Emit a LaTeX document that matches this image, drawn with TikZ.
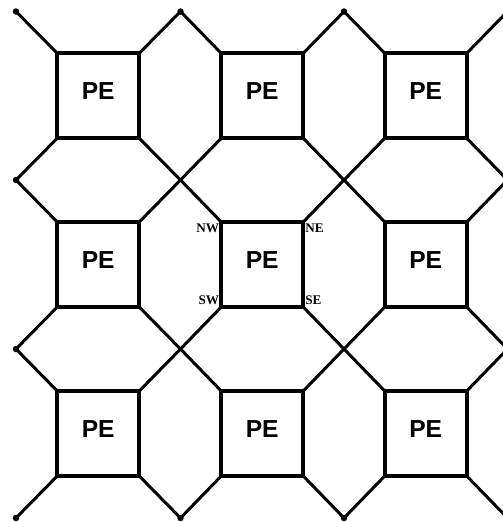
\documentclass[tikz,border=0pt]{standalone}
\usepackage{fontspec}
\setmainfont{Liberation Serif}
\setsansfont{Liberation Sans}
\usepackage{tikz}
\usetikzlibrary{positioning}

\begin{document}
\begin{tikzpicture}[
  x=0.02cm, y=-0.02cm,
  pe/.style={draw, line width=0.085cm, minimum width=1.64cm, minimum height=1.7cm, outer sep=0pt, inner sep=0pt,
    text height=0.36cm, text depth=0.2cm, font=\sffamily\bfseries\fontsize{14}{14}\selectfont},
  link/.style={line width=0.06cm},
  dot/.style={circle, fill, inner sep=0pt, minimum size=0.13cm},
  corner/.style={font=\bfseries\fontsize{7.5}{7.5}\selectfont, inner sep=1pt}
]
\useasboundingbox (0,0) rectangle (503,522);
\clip (0,0) rectangle (503,522);

% lattice of crossing points
\coordinate (c00) at (16,11.5);   \coordinate (c10) at (180.5,11.5);
\coordinate (c20) at (344,11.5);  \coordinate (c30) at (507.5,11.5);
\coordinate (c01) at (16,180);    \coordinate (c11) at (180.5,180);
\coordinate (c21) at (344,180);   \coordinate (c31) at (507.5,180);
\coordinate (c02) at (16,349);    \coordinate (c12) at (180.5,349);
\coordinate (c22) at (344,349);   \coordinate (c32) at (507.5,349);
\coordinate (c03) at (16,518);    \coordinate (c13) at (180.5,518);
\coordinate (c23) at (344,518);   \coordinate (c33) at (507.5,518);

% processing elements
\node[pe] (p00) at (98.25,95.75)  {PE};
\node[pe] (p10) at (262.25,95.75) {PE};
\node[pe] (p20) at (425.75,95.75) {PE};
\node[pe] (p01) at (98.25,264.5)  {PE};
\node[pe] (p11) at (262.25,264.5) {PE};
\node[pe] (p21) at (425.75,264.5) {PE};
\node[pe] (p02) at (98.25,433.5)  {PE};
\node[pe] (p12) at (262.25,433.5) {PE};
\node[pe] (p22) at (425.75,433.5) {PE};

% corner links
\draw[link] (c00) -- (p00.north west) (p00.north east) -- (c10) (p00.south west) -- (c01) (p00.south east) -- (c11);
\draw[link] (c10) -- (p10.north west) (p10.north east) -- (c20) (p10.south west) -- (c11) (p10.south east) -- (c21);
\draw[link] (c20) -- (p20.north west) (p20.north east) -- (c30) (p20.south west) -- (c21) (p20.south east) -- (c31);
\draw[link] (c01) -- (p01.north west) (p01.north east) -- (c11) (p01.south west) -- (c02) (p01.south east) -- (c12);
\draw[link] (c11) -- (p11.north west) (p11.north east) -- (c21) (p11.south west) -- (c12) (p11.south east) -- (c22);
\draw[link] (c21) -- (p21.north west) (p21.north east) -- (c31) (p21.south west) -- (c22) (p21.south east) -- (c32);
\draw[link] (c02) -- (p02.north west) (p02.north east) -- (c12) (p02.south west) -- (c03) (p02.south east) -- (c13);
\draw[link] (c12) -- (p12.north west) (p12.north east) -- (c22) (p12.south west) -- (c13) (p12.south east) -- (c23);
\draw[link] (c22) -- (p22.north west) (p22.north east) -- (c32) (p22.south west) -- (c23) (p22.south east) -- (c33);

% end dots on the border
\node[dot] (d00) at (c00) {}; \node[dot] (d10) at (c10) {}; \node[dot] (d20) at (c20) {};
\node[dot] (d01) at (c01) {}; \node[dot] (d02) at (c02) {};
\node[dot] (d03) at (c03) {}; \node[dot] (d13) at (c13) {}; \node[dot] (d23) at (c23) {};

% corner names of the middle PE
\node[corner, anchor=north east] (nw) at (p11.north west) {NW};
\node[corner, anchor=north west] (ne) at (p11.north east) {NE};
\node[corner, anchor=south east] (sw) at (p11.south west) {SW};
\node[corner, anchor=south west] (se) at (p11.south east) {SE};

\end{tikzpicture}
\end{document}
